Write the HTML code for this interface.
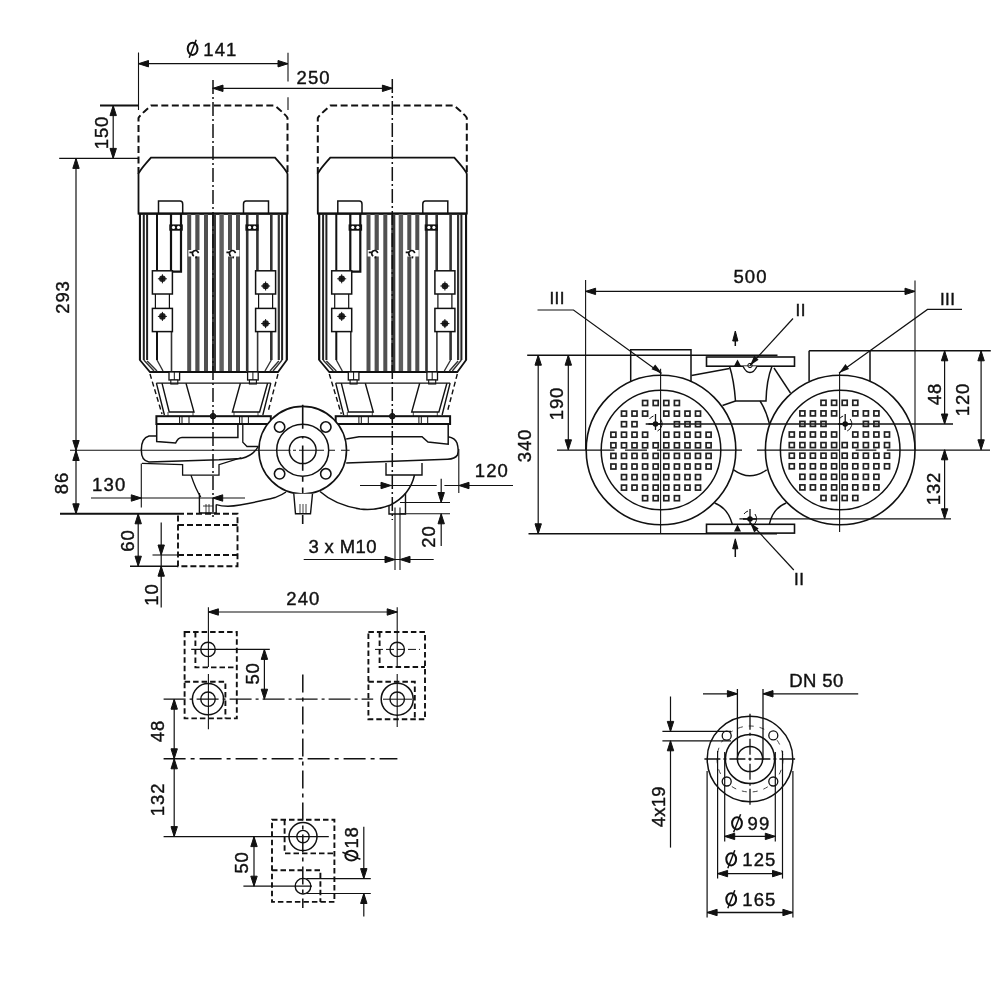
<!DOCTYPE html>
<html><head><meta charset="utf-8"><style>
html,body{margin:0;padding:0;background:#fff;}
svg{display:block;will-change:transform;}
text{font-family:"Liberation Sans",sans-serif;fill:#111;stroke:#111;stroke-width:0.4px;}
</style></head><body>
<svg width="1000" height="1000" viewBox="0 0 1000 1000" stroke="#111" fill="none" stroke-linecap="butt">
<rect x="0" y="0" width="1000" height="1000" fill="#fff" stroke="none"/>
<defs><g id="motor"><path d="M-74.5,174 L-74.5,118 Q-74,116 -62,105.6 L62,105.6 Q74,116 74.5,118 L74.5,174" fill="none" stroke-width="2" stroke-dasharray="7 3.5"/>
<path d="M-74.5,213.5 L-74.5,174 Q-74,171 -62,157.6 L62,157.6 Q74,171 74.5,174 L74.5,213.5 Z" fill="#fff" stroke-width="1.8"/>
<path d="M-54.5,213.5 L-54.5,201 L-33,201 Q-30.3,201 -30.3,204 L-30.3,213.5" fill="none" stroke-width="1.5"/>
<path d="M30.5,213.5 L30.5,204 Q30.5,201 33.2,201 L55.5,201 L55.5,213.5" fill="none" stroke-width="1.5"/>
<line x1="-74.5" y1="213.8" x2="74.5" y2="213.8" stroke-width="2"/>
<rect x="-74.10" y="214" width="2.00" height="146" fill="#111" stroke="none"/>
<rect x="-70.20" y="214" width="2.00" height="146" fill="#222" stroke="none"/>
<rect x="-66.90" y="214" width="2.00" height="146" fill="#222" stroke="none"/>
<rect x="-57.00" y="214" width="2.00" height="146" fill="#111" stroke="none"/>
<rect x="-25.80" y="214" width="4.00" height="158" fill="#505050" stroke="none"/>
<rect x="-17.70" y="214" width="4.20" height="158" fill="#505050" stroke="none"/>
<rect x="-9.00" y="214" width="4.00" height="158" fill="#505050" stroke="none"/>
<rect x="-1.00" y="214" width="4.00" height="158" fill="#3a3a3a" stroke="none"/>
<rect x="6.40" y="214" width="4.40" height="158" fill="#606060" stroke="none"/>
<rect x="15.00" y="214" width="4.00" height="158" fill="#505050" stroke="none"/>
<rect x="23.00" y="214" width="4.00" height="158" fill="#505050" stroke="none"/>
<rect x="57.00" y="214" width="2.60" height="146" fill="#333" stroke="none"/>
<rect x="64.70" y="214" width="2.20" height="146" fill="#333" stroke="none"/>
<rect x="68.10" y="214" width="2.00" height="146" fill="#222" stroke="none"/>
<rect x="72.80" y="214" width="2.00" height="146" fill="#111" stroke="none"/>
<path d="M-73.1,214 L-73.1,360 L-63,372 L65,372 L73.8,360 L73.8,214" fill="none" stroke-width="1.8"/>
<path d="M-69.2,360 L-59,371 M-65.9,361 L-56,371 M-56,360 L-50,371 M69.1,360 L60,371 M65.8,361 L57,371 M58.3,360 L52,371" fill="none" stroke-width="1.4" stroke="#333"/>
<path d="M-42,214 L-42,271.6 L-32,271.6 L-32,214" fill="none" stroke-width="2.2"/>
<rect x="-43.7" y="224.4" width="13.5" height="6.3" fill="#111" stroke="none"/>
<circle cx="-39.5" cy="227.4" r="1.6" fill="#fff" stroke="none"/><circle cx="-34.5" cy="227.4" r="1.6" fill="#fff" stroke="none"/>
<path d="M34.2,214 L34.2,372 M44.4,214 L44.4,271.6" fill="none" stroke-width="2.6" stroke="#333"/>
<rect x="32.4" y="224.4" width="13.2" height="6.3" fill="#111" stroke="none"/>
<circle cx="36.6" cy="227.4" r="1.6" fill="#fff" stroke="none"/><circle cx="41.6" cy="227.4" r="1.6" fill="#fff" stroke="none"/>
<path d="M-41.5,330 L-41.5,372 M44.6,330 L44.6,372" fill="none" stroke-width="1.6" stroke="#333"/>
<rect x="-57.6" y="293.0" width="14" height="16" fill="#fff" stroke-width="1.2"/>
<rect x="-60.6" y="270.8" width="20" height="23.2" fill="#fff" stroke-width="1.5"/>
<rect x="-60.6" y="308.4" width="20" height="23.2" fill="#fff" stroke-width="1.5"/>
<circle cx="-50.6" cy="278.8" r="3.3" fill="#222" stroke="none"/>
<path d="M-55.1,278.8 h9 M-50.6,274.3 v9" stroke-width="1"/>
<circle cx="-50.6" cy="316.4" r="3.3" fill="#222" stroke="none"/>
<path d="M-55.1,316.4 h9 M-50.6,311.9 v9" stroke-width="1"/>
<rect x="45.6" y="293.0" width="14" height="16" fill="#fff" stroke-width="1.2"/>
<rect x="42.6" y="270.8" width="20" height="23.2" fill="#fff" stroke-width="1.5"/>
<rect x="42.6" y="308.4" width="20" height="23.2" fill="#fff" stroke-width="1.5"/>
<circle cx="52.6" cy="286.0" r="3.3" fill="#222" stroke="none"/>
<path d="M48.1,286.0 h9 M52.6,281.5 v9" stroke-width="1"/>
<circle cx="52.6" cy="323.6" r="3.3" fill="#222" stroke="none"/>
<path d="M48.1,323.6 h9 M52.6,319.1 v9" stroke-width="1"/>
<g transform="translate(-17.6,253.6)"><rect x="-7" y="-3.6" width="14" height="6.5" fill="#fff" stroke="none"/><path d="M-6,-1.2 h3 M-1.5,2.5 A3,3 0 1 1 3,-0.5 M1,2.8 L0.5,4.8" fill="none" stroke-width="1.7" stroke="#111"/></g>
<g transform="translate(19.4,253.6)"><rect x="-7" y="-3.6" width="14" height="6.5" fill="#fff" stroke="none"/><path d="M-6,-1.2 h3 M-1.5,2.5 A3,3 0 1 1 3,-0.5 M1,2.8 L0.5,4.8" fill="none" stroke-width="1.7" stroke="#111"/></g>
<rect x="-44.0" y="372" width="10.6" height="8" fill="#fff" stroke-width="1.3"/>
<line x1="-38.7" y1="372" x2="-38.7" y2="380" stroke-width="1"/>
<rect x="-42.2" y="380" width="7" height="4" fill="#fff" stroke-width="1.1"/>
<rect x="34.6" y="372" width="10.6" height="8" fill="#fff" stroke-width="1.3"/>
<line x1="39.9" y1="372" x2="39.9" y2="380" stroke-width="1"/>
<rect x="36.4" y="380" width="7" height="4" fill="#fff" stroke-width="1.1"/>
<line x1="-56.6" y1="383.2" x2="57.8" y2="383.2" stroke-width="1.3"/>
<path d="M-63,374 L-51,414 M65,374 L55,412" fill="none" stroke-width="1.4" stroke-dasharray="5 3"/>
<path d="M-56.6,383.2 L-48.6,415 M-51,383.2 L-43.8,412 L-19,412 L-27,383.2 M27.4,383.2 L19.4,412 L46.6,412 L54.6,383.2 M57.8,383.2 L49.8,415" fill="none" stroke-width="1.4"/>
<path d="M-45,412 L-45,416 M-20,412 L-20,416 M21,412 L21,416 M45,412 L45,416" fill="none" stroke-width="0.8"/>
<rect x="-56.6" y="416.2" width="114.4" height="7.8" fill="#fff" stroke-width="2"/>
<path d="M-33.4,416 v8 M-31,416 v8 M-24,416 v8 M26.6,416 v8 M29,416 v8 M35.4,416 v8" fill="none" stroke-width="1"/>
<circle cx="0" cy="416.2" r="2.8" fill="#222" stroke-width="1"/></g></defs>
<use href="#motor" transform="translate(213,0)"/>
<use href="#motor" transform="translate(392.3,0)"/>
<path d="M156.7,424 L156.7,441.6 L175.6,443 Q178,437.4 182,437.4 L237.9,437.4 L237.9,424" fill="none" stroke-width="1.5"/>
<path d="M242.8,424 L242.8,442.3 L247,446.5 L258.2,446.5" fill="none" stroke-width="1.3"/>
<path d="M156.7,436 L149,436 Q141.3,438 141.3,450 Q141.3,461 149,461.9 L219,459.8 L241.4,458.4 Q253,456 258.2,446.5" fill="none" stroke-width="1.5"/>
<path d="M142,463.3 L182.6,464.7 L182.6,475.2 L219,475.2 L219,464.7 L241.4,457.7" fill="none" stroke-width="1.3"/>
<path d="M191,475.2 Q196,490 200.8,497" fill="none" stroke-width="1.3"/>
<path d="M199.4,493 L199.4,513 M216.2,504.6 L216.2,513 M199.4,513 L216.2,513" fill="none" stroke-width="1.4"/>
<path d="M206,504 v9 M209,504 v9 M203,506 h10" fill="none" stroke-width="0.8"/>
<path d="M216.2,504.6 Q226,507.5 240,505 Q262,501 275,497.6 Q282,495 286,492" fill="none" stroke-width="1.5"/>
<circle cx="302.7" cy="450.2" r="43.8" fill="#fff" stroke-width="1.6"/>
<circle cx="302.7" cy="450.2" r="26" fill="none" stroke-width="1.5"/>
<circle cx="302.7" cy="450.2" r="13.4" fill="none" stroke-width="1.5"/>
<circle cx="279.6" cy="427.0" r="5.2" fill="#fff" stroke-width="1.6"/>
<circle cx="279.6" cy="473.8" r="5.2" fill="#fff" stroke-width="1.6"/>
<circle cx="325.8" cy="427.0" r="5.2" fill="#fff" stroke-width="1.6"/>
<circle cx="325.8" cy="473.8" r="5.2" fill="#fff" stroke-width="1.6"/>
<path d="M302.7,404.8 v24 M302.7,436 v2.5 M302.7,445.6 v25.2 M302.7,476.8 v5 M302.7,487.6 v12 M302.7,506 v3 M302.7,515 v9" fill="none" stroke-width="1.6"/>
<path d="M283,450.2 h7.5 M293,450.2 h3 M299,450.2 h25 M329,450.2 h6 M341,450.2 h8.6" fill="none" stroke-width="1.1"/>
<path d="M293.8,493.8 L295.5,513.8 L310.5,513.8 L312.5,493.8" fill="#fff" stroke-width="1.4"/>
<path d="M300,504 v9 M303,504 v9 M306,504 v9" fill="none" stroke-width="0.8"/>
<path d="M346.2,439 L359,436.75 L422,436.75 L428,442 L448.2,444.25 L448.2,424" fill="none" stroke-width="1.5"/>
<path d="M448.2,436.75 Q455,438 457,443 Q459,450 457.5,455 Q455,459 447.5,459.25 L346.2,463" fill="none" stroke-width="1.5"/>
<path d="M386,463 L386,475 L422,475 L422,463" fill="none" stroke-width="1.4"/>
<path d="M414.5,475 Q410,495 390.5,505 Q375,511 360,509 Q335,505 320,491.5" fill="none" stroke-width="1.5"/>
<path d="M389,505 L389,514 L405.5,514 L405.5,493" fill="none" stroke-width="1.4"/>
<line x1="213.0" y1="80.0" x2="213.0" y2="520.0" stroke-width="1.50" stroke-dasharray="14 3 2 3"/>
<line x1="392.3" y1="79.0" x2="392.3" y2="520.0" stroke-width="1.50" stroke-dasharray="14 3 2 3"/>
<line x1="138.5" y1="52.5" x2="138.5" y2="110.0" stroke-width="1.10" />
<line x1="288.0" y1="52.8" x2="288.0" y2="81.6" stroke-width="1.10" />
<line x1="288.0" y1="97.2" x2="288.0" y2="110.0" stroke-width="1.10" />
<line x1="138.5" y1="63.7" x2="288.0" y2="63.7" stroke-width="1.20" />
<polygon points="138.5,63.7 148.5,60.5 148.5,66.9" fill="#111"/>
<polygon points="288.0,63.7 278.0,60.5 278.0,66.9" fill="#111"/>
<ellipse cx="192.6" cy="48.8" rx="4.9" ry="6.1" fill="none" stroke-width="2"/>
<line x1="189.2" y1="57.8" x2="196.2" y2="39.8" stroke-width="1.5"/>
<text x="220.4" y="49.1" font-size="18.5" letter-spacing="1.10" text-anchor="middle" dominant-baseline="central">141</text>
<line x1="212.4" y1="88.3" x2="392.4" y2="88.3" stroke-width="1.20" />
<polygon points="213.0,88.3 223.0,85.1 223.0,91.5" fill="#111"/>
<polygon points="392.4,88.3 382.4,85.1 382.4,91.5" fill="#111"/>
<text x="313.6" y="77.7" font-size="18.5" letter-spacing="1.10" text-anchor="middle" dominant-baseline="central">250</text>
<line x1="100.0" y1="105.6" x2="138.5" y2="105.6" stroke-width="2.00" />
<line x1="113.2" y1="105.6" x2="113.2" y2="158.4" stroke-width="1.20" />
<polygon points="113.2,105.6 110.0,115.6 116.4,115.6" fill="#111"/>
<polygon points="113.2,158.4 110.0,148.4 116.4,148.4" fill="#111"/>
<text x="100.5" y="132.0" font-size="18.5" letter-spacing="0.90" text-anchor="middle" dominant-baseline="central" transform="rotate(-90 101.0 132.0)">150</text>
<line x1="59.2" y1="158.4" x2="139.0" y2="158.4" stroke-width="1.10" />
<line x1="76.0" y1="158.4" x2="76.0" y2="450.5" stroke-width="1.20" />
<polygon points="76.0,158.4 72.8,168.4 79.2,168.4" fill="#111"/>
<polygon points="76.0,450.5 72.8,440.5 79.2,440.5" fill="#111"/>
<text x="62.2" y="296.4" font-size="18.5" letter-spacing="0.90" text-anchor="middle" dominant-baseline="central" transform="rotate(-90 62.8 296.4)">293</text>
<line x1="70.0" y1="450.3" x2="283.0" y2="450.3" stroke-width="1.10" />
<line x1="76.0" y1="450.5" x2="76.0" y2="513.8" stroke-width="1.20" />
<polygon points="76.0,450.5 72.8,460.5 79.2,460.5" fill="#111"/>
<polygon points="76.0,513.8 72.8,503.8 79.2,503.8" fill="#111"/>
<text x="60.5" y="482.5" font-size="18.5" letter-spacing="0.90" text-anchor="middle" dominant-baseline="central" transform="rotate(-90 61.0 482.5)">86</text>
<line x1="141.3" y1="463.5" x2="141.3" y2="507.4" stroke-width="1.10" />
<line x1="91.0" y1="498.0" x2="245.0" y2="498.0" stroke-width="1.20" />
<polygon points="141.3,498.0 131.3,494.8 131.3,501.2" fill="#111"/>
<polygon points="212.7,498.0 222.7,494.8 222.7,501.2" fill="#111"/>
<text x="109.2" y="484.8" font-size="18.5" letter-spacing="1.10" text-anchor="middle" dominant-baseline="central">130</text>
<line x1="60.0" y1="513.8" x2="178.0" y2="513.8" stroke-width="2.00" />
<path d="M178,513.8 L237.5,513.8 L237.5,566.2 L178,566.2 Z M178,525 L237.5,525 M178,555 L237.5,555" fill="none" stroke-width="1.9" stroke-dasharray="6 3"/>
<line x1="130.0" y1="566.2" x2="178.0" y2="566.2" stroke-width="1.50" />
<line x1="138.2" y1="513.8" x2="138.2" y2="566.2" stroke-width="1.20" />
<polygon points="138.2,513.8 135.0,523.8 141.4,523.8" fill="#111"/>
<polygon points="138.2,566.2 135.0,556.2 141.4,556.2" fill="#111"/>
<text x="127.0" y="540.0" font-size="18.5" letter-spacing="0.90" text-anchor="middle" dominant-baseline="central" transform="rotate(-90 127.5 540.0)">60</text>
<line x1="152.5" y1="555.0" x2="178.0" y2="555.0" stroke-width="1.10" />
<line x1="161.2" y1="522.5" x2="161.2" y2="607.5" stroke-width="1.20" />
<polygon points="161.2,555.0 158.0,545.0 164.4,545.0" fill="#111"/>
<polygon points="161.2,566.2 158.0,576.2 164.4,576.2" fill="#111"/>
<text x="150.4" y="594.0" font-size="18.5" letter-spacing="0.90" text-anchor="middle" dominant-baseline="central" transform="rotate(-90 151.0 594.0)">10</text>
<line x1="458.8" y1="449.0" x2="458.8" y2="493.0" stroke-width="1.10" />
<line x1="360.0" y1="485.5" x2="436.7" y2="485.5" stroke-width="1.20" />
<line x1="444.4" y1="485.5" x2="513.0" y2="485.5" stroke-width="1.20" />
<polygon points="391.0,485.5 381.0,482.3 381.0,488.7" fill="#111"/>
<polygon points="459.0,485.5 469.0,482.3 469.0,488.7" fill="#111"/>
<text x="491.9" y="470.8" font-size="18.5" letter-spacing="1.10" text-anchor="middle" dominant-baseline="central">120</text>
<line x1="400.0" y1="502.5" x2="450.0" y2="502.5" stroke-width="1.10" />
<line x1="400.0" y1="513.8" x2="450.0" y2="513.8" stroke-width="1.10" />
<line x1="441.2" y1="478.7" x2="441.2" y2="502.5" stroke-width="1.20" />
<polygon points="441.2,502.5 438.0,492.5 444.4,492.5" fill="#111"/>
<line x1="441.2" y1="513.8" x2="441.2" y2="546.0" stroke-width="1.20" />
<polygon points="441.2,513.8 438.0,523.8 444.4,523.8" fill="#111"/>
<text x="428.1" y="536.0" font-size="18.5" letter-spacing="0.90" text-anchor="middle" dominant-baseline="central" transform="rotate(-90 428.7 536.0)">20</text>
<line x1="395.0" y1="507.5" x2="395.0" y2="570.0" stroke-width="1.10" />
<line x1="400.0" y1="507.5" x2="400.0" y2="570.0" stroke-width="1.10" />
<line x1="303.7" y1="559.5" x2="433.7" y2="559.5" stroke-width="1.20" />
<polygon points="395.0,559.5 385.0,556.3 385.0,562.7" fill="#111"/>
<polygon points="400.0,559.5 410.0,556.3 410.0,562.7" fill="#111"/>
<text x="342.7" y="546.3" font-size="18.5" letter-spacing="0.40" text-anchor="middle" dominant-baseline="central">3 x M10</text>
<line x1="585.6" y1="280.0" x2="585.6" y2="450.0" stroke-width="1.10" />
<line x1="915.0" y1="280.5" x2="915.0" y2="450.0" stroke-width="1.10" />
<line x1="585.6" y1="291.4" x2="915.0" y2="291.4" stroke-width="1.20" />
<polygon points="585.6,291.4 595.6,288.2 595.6,294.6" fill="#111"/>
<polygon points="915.0,291.4 905.0,288.2 905.0,294.6" fill="#111"/>
<text x="750.5" y="276.3" font-size="18.5" letter-spacing="1.10" text-anchor="middle" dominant-baseline="central">500</text>
<line x1="527.2" y1="355.2" x2="777.5" y2="355.2" stroke-width="1.60" />
<line x1="809.1" y1="350.8" x2="990.8" y2="350.8" stroke-width="1.60" />
<line x1="528.5" y1="533.8" x2="777.0" y2="533.8" stroke-width="1.60" />
<line x1="739.4" y1="518.8" x2="951.0" y2="518.8" stroke-width="1.20" />
<line x1="645.7" y1="424.0" x2="953.0" y2="424.0" stroke-width="1.40" />
<path d="M557,450.2 H614.5 M625,450.2 H647 M657,450.2 H742 M757,450.2 H840 M855.6,450.2 H876.4 M886.8,450.2 H990" fill="none" stroke-width="1.2"/>
<path d="M630.7,382 L630.7,349.8 L691,349.8 L691,382" fill="none" stroke-width="1.5"/>
<path d="M809.1,381.2 L809.1,350.8 M870,350.8 L870,381.2" fill="none" stroke-width="1.5"/>
<circle cx="661.0" cy="450" r="74.8" fill="none" stroke-width="1.6"/>
<circle cx="661.0" cy="450" r="59.8" fill="none" stroke-width="1.5"/>
<circle cx="840.2" cy="450" r="74.8" fill="none" stroke-width="1.6"/>
<circle cx="840.2" cy="450" r="59.8" fill="none" stroke-width="1.5"/>
<rect x="642.6" y="400.5" width="5" height="5" fill="none" stroke-width="1.7" stroke="#222"/>
<rect x="653.2" y="400.5" width="5" height="5" fill="none" stroke-width="1.7" stroke="#222"/>
<rect x="663.8" y="400.5" width="5" height="5" fill="none" stroke-width="1.7" stroke="#222"/>
<rect x="674.4" y="400.5" width="5" height="5" fill="none" stroke-width="1.7" stroke="#222"/>
<rect x="621.5" y="411.1" width="5" height="5" fill="none" stroke-width="1.7" stroke="#222"/>
<rect x="632.0" y="411.1" width="5" height="5" fill="none" stroke-width="1.7" stroke="#222"/>
<rect x="642.6" y="411.1" width="5" height="5" fill="none" stroke-width="1.7" stroke="#222"/>
<rect x="663.8" y="411.1" width="5" height="5" fill="none" stroke-width="1.7" stroke="#222"/>
<rect x="674.4" y="411.1" width="5" height="5" fill="none" stroke-width="1.7" stroke="#222"/>
<rect x="685.0" y="411.1" width="5" height="5" fill="none" stroke-width="1.7" stroke="#222"/>
<rect x="695.5" y="411.1" width="5" height="5" fill="none" stroke-width="1.7" stroke="#222"/>
<rect x="621.5" y="421.7" width="5" height="5" fill="none" stroke-width="1.7" stroke="#222"/>
<rect x="632.0" y="421.7" width="5" height="5" fill="none" stroke-width="1.7" stroke="#222"/>
<rect x="674.4" y="421.7" width="5" height="5" fill="none" stroke-width="1.7" stroke="#222"/>
<rect x="685.0" y="421.7" width="5" height="5" fill="none" stroke-width="1.7" stroke="#222"/>
<rect x="695.5" y="421.7" width="5" height="5" fill="none" stroke-width="1.7" stroke="#222"/>
<rect x="610.9" y="432.2" width="5" height="5" fill="none" stroke-width="1.7" stroke="#222"/>
<rect x="621.5" y="432.2" width="5" height="5" fill="none" stroke-width="1.7" stroke="#222"/>
<rect x="632.0" y="432.2" width="5" height="5" fill="none" stroke-width="1.7" stroke="#222"/>
<rect x="642.6" y="432.2" width="5" height="5" fill="none" stroke-width="1.7" stroke="#222"/>
<rect x="663.8" y="432.2" width="5" height="5" fill="none" stroke-width="1.7" stroke="#222"/>
<rect x="674.4" y="432.2" width="5" height="5" fill="none" stroke-width="1.7" stroke="#222"/>
<rect x="685.0" y="432.2" width="5" height="5" fill="none" stroke-width="1.7" stroke="#222"/>
<rect x="695.5" y="432.2" width="5" height="5" fill="none" stroke-width="1.7" stroke="#222"/>
<rect x="706.1" y="432.2" width="5" height="5" fill="none" stroke-width="1.7" stroke="#222"/>
<rect x="610.9" y="442.8" width="5" height="5" fill="none" stroke-width="1.7" stroke="#222"/>
<rect x="621.5" y="442.8" width="5" height="5" fill="none" stroke-width="1.7" stroke="#222"/>
<rect x="632.0" y="442.8" width="5" height="5" fill="none" stroke-width="1.7" stroke="#222"/>
<rect x="642.6" y="442.8" width="5" height="5" fill="none" stroke-width="1.7" stroke="#222"/>
<rect x="653.2" y="442.8" width="5" height="5" fill="none" stroke-width="1.7" stroke="#222"/>
<rect x="663.8" y="442.8" width="5" height="5" fill="none" stroke-width="1.7" stroke="#222"/>
<rect x="674.4" y="442.8" width="5" height="5" fill="none" stroke-width="1.7" stroke="#222"/>
<rect x="685.0" y="442.8" width="5" height="5" fill="none" stroke-width="1.7" stroke="#222"/>
<rect x="695.5" y="442.8" width="5" height="5" fill="none" stroke-width="1.7" stroke="#222"/>
<rect x="706.1" y="442.8" width="5" height="5" fill="none" stroke-width="1.7" stroke="#222"/>
<rect x="610.9" y="453.4" width="5" height="5" fill="none" stroke-width="1.7" stroke="#222"/>
<rect x="621.5" y="453.4" width="5" height="5" fill="none" stroke-width="1.7" stroke="#222"/>
<rect x="632.0" y="453.4" width="5" height="5" fill="none" stroke-width="1.7" stroke="#222"/>
<rect x="642.6" y="453.4" width="5" height="5" fill="none" stroke-width="1.7" stroke="#222"/>
<rect x="653.2" y="453.4" width="5" height="5" fill="none" stroke-width="1.7" stroke="#222"/>
<rect x="663.8" y="453.4" width="5" height="5" fill="none" stroke-width="1.7" stroke="#222"/>
<rect x="674.4" y="453.4" width="5" height="5" fill="none" stroke-width="1.7" stroke="#222"/>
<rect x="685.0" y="453.4" width="5" height="5" fill="none" stroke-width="1.7" stroke="#222"/>
<rect x="695.5" y="453.4" width="5" height="5" fill="none" stroke-width="1.7" stroke="#222"/>
<rect x="706.1" y="453.4" width="5" height="5" fill="none" stroke-width="1.7" stroke="#222"/>
<rect x="610.9" y="464.0" width="5" height="5" fill="none" stroke-width="1.7" stroke="#222"/>
<rect x="621.5" y="464.0" width="5" height="5" fill="none" stroke-width="1.7" stroke="#222"/>
<rect x="632.0" y="464.0" width="5" height="5" fill="none" stroke-width="1.7" stroke="#222"/>
<rect x="642.6" y="464.0" width="5" height="5" fill="none" stroke-width="1.7" stroke="#222"/>
<rect x="653.2" y="464.0" width="5" height="5" fill="none" stroke-width="1.7" stroke="#222"/>
<rect x="663.8" y="464.0" width="5" height="5" fill="none" stroke-width="1.7" stroke="#222"/>
<rect x="674.4" y="464.0" width="5" height="5" fill="none" stroke-width="1.7" stroke="#222"/>
<rect x="685.0" y="464.0" width="5" height="5" fill="none" stroke-width="1.7" stroke="#222"/>
<rect x="695.5" y="464.0" width="5" height="5" fill="none" stroke-width="1.7" stroke="#222"/>
<rect x="706.1" y="464.0" width="5" height="5" fill="none" stroke-width="1.7" stroke="#222"/>
<rect x="621.5" y="474.6" width="5" height="5" fill="none" stroke-width="1.7" stroke="#222"/>
<rect x="632.0" y="474.6" width="5" height="5" fill="none" stroke-width="1.7" stroke="#222"/>
<rect x="642.6" y="474.6" width="5" height="5" fill="none" stroke-width="1.7" stroke="#222"/>
<rect x="653.2" y="474.6" width="5" height="5" fill="none" stroke-width="1.7" stroke="#222"/>
<rect x="663.8" y="474.6" width="5" height="5" fill="none" stroke-width="1.7" stroke="#222"/>
<rect x="674.4" y="474.6" width="5" height="5" fill="none" stroke-width="1.7" stroke="#222"/>
<rect x="685.0" y="474.6" width="5" height="5" fill="none" stroke-width="1.7" stroke="#222"/>
<rect x="695.5" y="474.6" width="5" height="5" fill="none" stroke-width="1.7" stroke="#222"/>
<rect x="621.5" y="485.1" width="5" height="5" fill="none" stroke-width="1.7" stroke="#222"/>
<rect x="632.0" y="485.1" width="5" height="5" fill="none" stroke-width="1.7" stroke="#222"/>
<rect x="642.6" y="485.1" width="5" height="5" fill="none" stroke-width="1.7" stroke="#222"/>
<rect x="653.2" y="485.1" width="5" height="5" fill="none" stroke-width="1.7" stroke="#222"/>
<rect x="663.8" y="485.1" width="5" height="5" fill="none" stroke-width="1.7" stroke="#222"/>
<rect x="674.4" y="485.1" width="5" height="5" fill="none" stroke-width="1.7" stroke="#222"/>
<rect x="685.0" y="485.1" width="5" height="5" fill="none" stroke-width="1.7" stroke="#222"/>
<rect x="695.5" y="485.1" width="5" height="5" fill="none" stroke-width="1.7" stroke="#222"/>
<rect x="642.6" y="495.7" width="5" height="5" fill="none" stroke-width="1.7" stroke="#222"/>
<rect x="653.2" y="495.7" width="5" height="5" fill="none" stroke-width="1.7" stroke="#222"/>
<rect x="663.8" y="495.7" width="5" height="5" fill="none" stroke-width="1.7" stroke="#222"/>
<rect x="674.4" y="495.7" width="5" height="5" fill="none" stroke-width="1.7" stroke="#222"/>
<rect x="821.0" y="400.3" width="5" height="5" fill="none" stroke-width="1.7" stroke="#222"/>
<rect x="831.6" y="400.3" width="5" height="5" fill="none" stroke-width="1.7" stroke="#222"/>
<rect x="842.2" y="400.3" width="5" height="5" fill="none" stroke-width="1.7" stroke="#222"/>
<rect x="852.8" y="400.3" width="5" height="5" fill="none" stroke-width="1.7" stroke="#222"/>
<rect x="799.9" y="410.9" width="5" height="5" fill="none" stroke-width="1.7" stroke="#222"/>
<rect x="810.4" y="410.9" width="5" height="5" fill="none" stroke-width="1.7" stroke="#222"/>
<rect x="821.0" y="410.9" width="5" height="5" fill="none" stroke-width="1.7" stroke="#222"/>
<rect x="831.6" y="410.9" width="5" height="5" fill="none" stroke-width="1.7" stroke="#222"/>
<rect x="852.8" y="410.9" width="5" height="5" fill="none" stroke-width="1.7" stroke="#222"/>
<rect x="863.4" y="410.9" width="5" height="5" fill="none" stroke-width="1.7" stroke="#222"/>
<rect x="873.9" y="410.9" width="5" height="5" fill="none" stroke-width="1.7" stroke="#222"/>
<rect x="799.9" y="421.4" width="5" height="5" fill="none" stroke-width="1.7" stroke="#222"/>
<rect x="810.4" y="421.4" width="5" height="5" fill="none" stroke-width="1.7" stroke="#222"/>
<rect x="821.0" y="421.4" width="5" height="5" fill="none" stroke-width="1.7" stroke="#222"/>
<rect x="863.4" y="421.4" width="5" height="5" fill="none" stroke-width="1.7" stroke="#222"/>
<rect x="873.9" y="421.4" width="5" height="5" fill="none" stroke-width="1.7" stroke="#222"/>
<rect x="789.3" y="432.0" width="5" height="5" fill="none" stroke-width="1.7" stroke="#222"/>
<rect x="799.9" y="432.0" width="5" height="5" fill="none" stroke-width="1.7" stroke="#222"/>
<rect x="810.4" y="432.0" width="5" height="5" fill="none" stroke-width="1.7" stroke="#222"/>
<rect x="821.0" y="432.0" width="5" height="5" fill="none" stroke-width="1.7" stroke="#222"/>
<rect x="831.6" y="432.0" width="5" height="5" fill="none" stroke-width="1.7" stroke="#222"/>
<rect x="852.8" y="432.0" width="5" height="5" fill="none" stroke-width="1.7" stroke="#222"/>
<rect x="863.4" y="432.0" width="5" height="5" fill="none" stroke-width="1.7" stroke="#222"/>
<rect x="873.9" y="432.0" width="5" height="5" fill="none" stroke-width="1.7" stroke="#222"/>
<rect x="884.5" y="432.0" width="5" height="5" fill="none" stroke-width="1.7" stroke="#222"/>
<rect x="789.3" y="442.6" width="5" height="5" fill="none" stroke-width="1.7" stroke="#222"/>
<rect x="799.9" y="442.6" width="5" height="5" fill="none" stroke-width="1.7" stroke="#222"/>
<rect x="810.4" y="442.6" width="5" height="5" fill="none" stroke-width="1.7" stroke="#222"/>
<rect x="821.0" y="442.6" width="5" height="5" fill="none" stroke-width="1.7" stroke="#222"/>
<rect x="831.6" y="442.6" width="5" height="5" fill="none" stroke-width="1.7" stroke="#222"/>
<rect x="842.2" y="442.6" width="5" height="5" fill="none" stroke-width="1.7" stroke="#222"/>
<rect x="852.8" y="442.6" width="5" height="5" fill="none" stroke-width="1.7" stroke="#222"/>
<rect x="863.4" y="442.6" width="5" height="5" fill="none" stroke-width="1.7" stroke="#222"/>
<rect x="873.9" y="442.6" width="5" height="5" fill="none" stroke-width="1.7" stroke="#222"/>
<rect x="884.5" y="442.6" width="5" height="5" fill="none" stroke-width="1.7" stroke="#222"/>
<rect x="789.3" y="453.2" width="5" height="5" fill="none" stroke-width="1.7" stroke="#222"/>
<rect x="799.9" y="453.2" width="5" height="5" fill="none" stroke-width="1.7" stroke="#222"/>
<rect x="810.4" y="453.2" width="5" height="5" fill="none" stroke-width="1.7" stroke="#222"/>
<rect x="821.0" y="453.2" width="5" height="5" fill="none" stroke-width="1.7" stroke="#222"/>
<rect x="831.6" y="453.2" width="5" height="5" fill="none" stroke-width="1.7" stroke="#222"/>
<rect x="842.2" y="453.2" width="5" height="5" fill="none" stroke-width="1.7" stroke="#222"/>
<rect x="852.8" y="453.2" width="5" height="5" fill="none" stroke-width="1.7" stroke="#222"/>
<rect x="863.4" y="453.2" width="5" height="5" fill="none" stroke-width="1.7" stroke="#222"/>
<rect x="873.9" y="453.2" width="5" height="5" fill="none" stroke-width="1.7" stroke="#222"/>
<rect x="884.5" y="453.2" width="5" height="5" fill="none" stroke-width="1.7" stroke="#222"/>
<rect x="789.3" y="463.8" width="5" height="5" fill="none" stroke-width="1.7" stroke="#222"/>
<rect x="799.9" y="463.8" width="5" height="5" fill="none" stroke-width="1.7" stroke="#222"/>
<rect x="810.4" y="463.8" width="5" height="5" fill="none" stroke-width="1.7" stroke="#222"/>
<rect x="821.0" y="463.8" width="5" height="5" fill="none" stroke-width="1.7" stroke="#222"/>
<rect x="831.6" y="463.8" width="5" height="5" fill="none" stroke-width="1.7" stroke="#222"/>
<rect x="842.2" y="463.8" width="5" height="5" fill="none" stroke-width="1.7" stroke="#222"/>
<rect x="852.8" y="463.8" width="5" height="5" fill="none" stroke-width="1.7" stroke="#222"/>
<rect x="863.4" y="463.8" width="5" height="5" fill="none" stroke-width="1.7" stroke="#222"/>
<rect x="873.9" y="463.8" width="5" height="5" fill="none" stroke-width="1.7" stroke="#222"/>
<rect x="884.5" y="463.8" width="5" height="5" fill="none" stroke-width="1.7" stroke="#222"/>
<rect x="799.9" y="474.3" width="5" height="5" fill="none" stroke-width="1.7" stroke="#222"/>
<rect x="810.4" y="474.3" width="5" height="5" fill="none" stroke-width="1.7" stroke="#222"/>
<rect x="821.0" y="474.3" width="5" height="5" fill="none" stroke-width="1.7" stroke="#222"/>
<rect x="831.6" y="474.3" width="5" height="5" fill="none" stroke-width="1.7" stroke="#222"/>
<rect x="842.2" y="474.3" width="5" height="5" fill="none" stroke-width="1.7" stroke="#222"/>
<rect x="852.8" y="474.3" width="5" height="5" fill="none" stroke-width="1.7" stroke="#222"/>
<rect x="863.4" y="474.3" width="5" height="5" fill="none" stroke-width="1.7" stroke="#222"/>
<rect x="873.9" y="474.3" width="5" height="5" fill="none" stroke-width="1.7" stroke="#222"/>
<rect x="799.9" y="484.9" width="5" height="5" fill="none" stroke-width="1.7" stroke="#222"/>
<rect x="810.4" y="484.9" width="5" height="5" fill="none" stroke-width="1.7" stroke="#222"/>
<rect x="821.0" y="484.9" width="5" height="5" fill="none" stroke-width="1.7" stroke="#222"/>
<rect x="831.6" y="484.9" width="5" height="5" fill="none" stroke-width="1.7" stroke="#222"/>
<rect x="842.2" y="484.9" width="5" height="5" fill="none" stroke-width="1.7" stroke="#222"/>
<rect x="852.8" y="484.9" width="5" height="5" fill="none" stroke-width="1.7" stroke="#222"/>
<rect x="863.4" y="484.9" width="5" height="5" fill="none" stroke-width="1.7" stroke="#222"/>
<rect x="873.9" y="484.9" width="5" height="5" fill="none" stroke-width="1.7" stroke="#222"/>
<rect x="821.0" y="495.5" width="5" height="5" fill="none" stroke-width="1.7" stroke="#222"/>
<rect x="831.6" y="495.5" width="5" height="5" fill="none" stroke-width="1.7" stroke="#222"/>
<rect x="842.2" y="495.5" width="5" height="5" fill="none" stroke-width="1.7" stroke="#222"/>
<rect x="852.8" y="495.5" width="5" height="5" fill="none" stroke-width="1.7" stroke="#222"/>
<line x1="660.6" y1="368.7" x2="660.6" y2="533.0" stroke-width="1.10" />
<line x1="839.6" y1="372.0" x2="839.6" y2="532.0" stroke-width="1.10" />
<circle cx="655.5" cy="424.0" r="2.8" fill="#111" stroke="none"/>
<path d="M655.5,414.0 v16 M648.5,424.0 h14" fill="none" stroke-width="1.3"/>
<path d="M649.5,419.0 A8,8 0 0 1 653.5,416.0 M660.5,419.0 A8,8 0 0 1 657.5,431.0" fill="none" stroke-width="1"/>
<circle cx="845.2" cy="424.0" r="2.8" fill="#111" stroke="none"/>
<path d="M845.2,414.0 v16 M838.2,424.0 h14" fill="none" stroke-width="1.3"/>
<path d="M839.2,419.0 A8,8 0 0 1 843.2,416.0 M850.2,419.0 A8,8 0 0 1 847.2,431.0" fill="none" stroke-width="1"/>
<rect x="706.5" y="357" width="88" height="9.2" fill="#fff" stroke-width="1.6"/>
<path d="M729.5,366.2 Q734,380 735.5,401 L766,401 Q766.5,380 772,366.2" fill="none" stroke-width="1.5"/>
<path d="M743,366.2 Q746,372.5 750,372.5 Q754,372.5 757,366.2" fill="#fff" stroke-width="1.4"/>
<polygon points="737.5,359.5 734,366 741,366" fill="#111" stroke="none"/>
<circle cx="750" cy="365.5" r="2.2" fill="none" stroke-width="1"/>
<line x1="691.5" y1="375.5" x2="729.5" y2="368.5" stroke-width="1.40" />
<line x1="774.0" y1="368.0" x2="790.5" y2="393.0" stroke-width="1.40" />
<line x1="735.5" y1="401.0" x2="722.5" y2="405.5" stroke-width="1.40" />
<path d="M760,401 Q766,410 769.5,424" fill="none" stroke-width="1.4"/>
<line x1="735.3" y1="346.0" x2="735.3" y2="340.0" stroke-width="1.50" />
<polygon points="735.3,331.0 732.7,341.0 737.9,341.0" fill="#111"/>
<rect x="706.5" y="524.3" width="88" height="8.8" fill="#fff" stroke-width="1.6"/>
<path d="M733.6,469.9 Q742,475.8 749.8,475.8 Q758,475.8 766.7,469.9" fill="none" stroke-width="1.4"/>
<path d="M714.7,503 Q728,508 732.3,524.3 M786.2,503 Q773,508 769.3,524.3" fill="none" stroke-width="1.4"/>
<polygon points="737.5,524.5 734,531.5 741,531.5" fill="#111" stroke="none"/>
<circle cx="750.0" cy="519.0" r="2.8" fill="#111" stroke="none"/>
<path d="M750.0,509.0 v16 M743.0,519.0 h14" fill="none" stroke-width="1.3"/>
<path d="M744.0,514.0 A8,8 0 0 1 748.0,511.0 M755.0,514.0 A8,8 0 0 1 752.0,526.0" fill="none" stroke-width="1"/>
<line x1="735.3" y1="557.0" x2="735.3" y2="548.0" stroke-width="1.50" />
<polygon points="735.3,538.8 732.7,548.8 737.9,548.8" fill="#111"/>
<path d="M537.5,310 L573.5,310 L660.5,373" fill="none" stroke-width="1.2"/>
<polygon points="661.5,373.5 661.4,373.4 661.4,373.6" fill="#111"/>
<polygon points="662.2,373.6 651.5,369.2 655.2,364.4" fill="#111" stroke="none"/>
<path d="M962,309.4 L927.5,309.4 L839,373.1" fill="none" stroke-width="1.2"/>
<polygon points="839,373.1 845.5,364 849,369" fill="#111" stroke="none"/>
<path d="M793,318.5 L750,365.5" fill="none" stroke-width="1.2"/>
<polygon points="750,365.5 754.2,355.8 758.6,359.8" fill="#111" stroke="none"/>
<path d="M793.8,570 L750,522.5" fill="none" stroke-width="1.2"/>
<polygon points="750,522.5 758.6,528.4 754.2,532.4" fill="#111" stroke="none"/>
<text x="557.2" y="298.3" font-size="17.0" letter-spacing="0.40" text-anchor="middle" dominant-baseline="central">III</text>
<text x="947.7" y="299.8" font-size="17.0" letter-spacing="0.40" text-anchor="middle" dominant-baseline="central">III</text>
<text x="800.7" y="310.3" font-size="17.0" letter-spacing="0.40" text-anchor="middle" dominant-baseline="central">II</text>
<text x="799.2" y="579.3" font-size="17.0" letter-spacing="0.40" text-anchor="middle" dominant-baseline="central">II</text>
<line x1="538.2" y1="355.2" x2="538.2" y2="533.8" stroke-width="1.20" />
<polygon points="538.2,355.2 535.0,365.2 541.4,365.2" fill="#111"/>
<polygon points="538.2,533.8 535.0,523.8 541.4,523.8" fill="#111"/>
<text x="523.5" y="445.0" font-size="18.5" letter-spacing="0.90" text-anchor="middle" dominant-baseline="central" transform="rotate(-90 524.0 445.0)">340</text>
<line x1="568.3" y1="355.2" x2="568.3" y2="449.8" stroke-width="1.20" />
<polygon points="568.3,355.2 565.1,365.2 571.5,365.2" fill="#111"/>
<polygon points="568.3,449.8 565.1,439.8 571.5,439.8" fill="#111"/>
<text x="556.0" y="403.0" font-size="18.5" letter-spacing="0.90" text-anchor="middle" dominant-baseline="central" transform="rotate(-90 556.5 403.0)">190</text>
<line x1="944.6" y1="350.8" x2="944.6" y2="424.0" stroke-width="1.20" />
<polygon points="944.6,350.8 941.4,360.8 947.8,360.8" fill="#111"/>
<polygon points="944.6,424.0 941.4,414.0 947.8,414.0" fill="#111"/>
<text x="934.0" y="393.5" font-size="18.5" letter-spacing="0.90" text-anchor="middle" dominant-baseline="central" transform="rotate(-90 934.5 393.5)">48</text>
<line x1="981.1" y1="350.8" x2="981.1" y2="449.8" stroke-width="1.20" />
<polygon points="981.1,350.8 977.9,360.8 984.3,360.8" fill="#111"/>
<polygon points="981.1,449.8 977.9,439.8 984.3,439.8" fill="#111"/>
<text x="962.0" y="399.0" font-size="18.5" letter-spacing="0.90" text-anchor="middle" dominant-baseline="central" transform="rotate(-90 962.5 399.0)">120</text>
<line x1="944.6" y1="449.8" x2="944.6" y2="518.8" stroke-width="1.20" />
<polygon points="944.6,449.8 941.4,459.8 947.8,459.8" fill="#111"/>
<polygon points="944.6,518.8 941.4,508.8 947.8,508.8" fill="#111"/>
<text x="933.0" y="488.0" font-size="18.5" letter-spacing="0.90" text-anchor="middle" dominant-baseline="central" transform="rotate(-90 933.5 488.0)">132</text>
<line x1="208.4" y1="607.2" x2="208.4" y2="667.0" stroke-width="1.10" />
<line x1="208.4" y1="674.0" x2="208.4" y2="729.2" stroke-width="1.10" />
<line x1="397.2" y1="607.2" x2="397.2" y2="667.0" stroke-width="1.10" />
<line x1="397.2" y1="674.0" x2="397.2" y2="727.0" stroke-width="1.10" />
<line x1="208.4" y1="612.0" x2="397.2" y2="612.0" stroke-width="1.20" />
<polygon points="208.4,612.0 218.4,608.8 218.4,615.2" fill="#111"/>
<polygon points="397.2,612.0 387.2,608.8 387.2,615.2" fill="#111"/>
<text x="303.4" y="598.9" font-size="18.5" letter-spacing="1.10" text-anchor="middle" dominant-baseline="central">240</text>
<path d="M184.6,632 L236.8,632 L236.8,718.4 L184.6,718.4 Z" fill="none" stroke-width="1.9" stroke-dasharray="5.5 3"/>
<path d="M195.4,632 L195.4,667.4 L236.8,667.4" fill="none" stroke-width="1.9" stroke-dasharray="5.5 3"/>
<path d="M184.6,681.8 L225.4,681.8 L225.4,718.4" fill="none" stroke-width="1.9" stroke-dasharray="5.5 3"/>
<circle cx="208" cy="649.4" r="7.2" fill="none" stroke-width="1.4"/>
<circle cx="208" cy="699.2" r="15.6" fill="none" stroke-width="1.5"/>
<circle cx="208" cy="699.2" r="7.2" fill="none" stroke-width="1.4"/>
<line x1="191.2" y1="649.4" x2="269.8" y2="649.4" stroke-width="1.20" />
<path d="M368.4,632 L425,632 L425,719.2 L368.4,719.2 Z" fill="none" stroke-width="1.9" stroke-dasharray="5.5 3"/>
<path d="M379.6,632 L379.6,667 L425,667" fill="none" stroke-width="1.9" stroke-dasharray="5.5 3"/>
<path d="M368.4,681.8 L414.8,681.8 L414.8,719.2" fill="none" stroke-width="1.9" stroke-dasharray="5.5 3"/>
<circle cx="397.2" cy="649.4" r="7.2" fill="none" stroke-width="1.4"/>
<circle cx="397.2" cy="699.2" r="16" fill="none" stroke-width="1.5"/>
<circle cx="397.2" cy="699.2" r="7.2" fill="none" stroke-width="1.4"/>
<line x1="375.0" y1="649.4" x2="420.0" y2="649.4" stroke-width="1.00" stroke-dasharray="8 3"/>
<line x1="383.0" y1="699.2" x2="412.0" y2="699.2" stroke-width="1.00" />
<line x1="264.4" y1="649.4" x2="264.4" y2="699.2" stroke-width="1.20" />
<polygon points="264.4,649.4 261.2,659.4 267.6,659.4" fill="#111"/>
<polygon points="264.4,699.2 261.2,689.2 267.6,689.2" fill="#111"/>
<text x="252.4" y="672.8" font-size="18.5" letter-spacing="0.90" text-anchor="middle" dominant-baseline="central" transform="rotate(-90 253.0 672.8)">50</text>
<line x1="163.6" y1="699.2" x2="373.2" y2="699.2" stroke-width="1.20" stroke-dasharray="22 4 3 4"/>
<line x1="163.6" y1="758.8" x2="397.4" y2="758.8" stroke-width="1.50" stroke-dasharray="22 5 4 5"/>
<line x1="302.8" y1="674.4" x2="302.8" y2="908.0" stroke-width="1.50" stroke-dasharray="18 5 4 5"/>
<line x1="174.2" y1="699.2" x2="174.2" y2="758.8" stroke-width="1.20" />
<polygon points="174.2,699.2 171.0,709.2 177.4,709.2" fill="#111"/>
<polygon points="174.2,758.8 171.0,748.8 177.4,748.8" fill="#111"/>
<text x="156.6" y="730.4" font-size="18.5" letter-spacing="0.90" text-anchor="middle" dominant-baseline="central" transform="rotate(-90 157.2 730.4)">48</text>
<line x1="174.2" y1="758.8" x2="174.2" y2="836.6" stroke-width="1.20" />
<polygon points="174.2,758.8 171.0,768.8 177.4,768.8" fill="#111"/>
<polygon points="174.2,836.6 171.0,826.6 177.4,826.6" fill="#111"/>
<text x="157.4" y="798.8" font-size="18.5" letter-spacing="0.90" text-anchor="middle" dominant-baseline="central" transform="rotate(-90 158.0 798.8)">132</text>
<line x1="163.6" y1="836.6" x2="328.8" y2="836.6" stroke-width="1.20" />
<path d="M272,819.8 L334.4,819.8 L334.4,901.9 L272,901.9 Z" fill="none" stroke-width="1.9" stroke-dasharray="5.5 3"/>
<path d="M284.6,819.8 L284.6,853.4 L334.4,853.4" fill="none" stroke-width="1.9" stroke-dasharray="5.5 3"/>
<path d="M272,870.2 L320.4,870.2 L320.4,901.9" fill="none" stroke-width="1.9" stroke-dasharray="5.5 3"/>
<circle cx="303" cy="836.6" r="14" fill="none" stroke-width="1.5"/>
<circle cx="303" cy="836.6" r="6.2" fill="none" stroke-width="1.4"/>
<circle cx="303" cy="886.2" r="7.8" fill="none" stroke-width="1.4"/>
<line x1="254.0" y1="836.6" x2="254.0" y2="886.2" stroke-width="1.20" />
<polygon points="254.0,836.6 250.8,846.6 257.2,846.6" fill="#111"/>
<polygon points="254.0,886.2 250.8,876.2 257.2,876.2" fill="#111"/>
<text x="241.4" y="861.8" font-size="18.5" letter-spacing="0.90" text-anchor="middle" dominant-baseline="central" transform="rotate(-90 242.0 861.8)">50</text>
<line x1="243.4" y1="886.2" x2="312.0" y2="886.2" stroke-width="1.20" />
<line x1="306.4" y1="878.6" x2="370.8" y2="878.6" stroke-width="1.10" />
<line x1="306.4" y1="893.5" x2="370.8" y2="893.5" stroke-width="1.10" />
<line x1="363.8" y1="826.8" x2="363.8" y2="878.6" stroke-width="1.20" />
<polygon points="363.8,878.6 360.6,868.6 367.0,868.6" fill="#111"/>
<line x1="363.8" y1="893.5" x2="363.8" y2="916.4" stroke-width="1.20" />
<polygon points="363.8,893.5 360.6,903.5 367.0,903.5" fill="#111"/>
<ellipse cx="351.4" cy="855.6" rx="6.1" ry="4.9" fill="none" stroke-width="2"/>
<line x1="342.4" y1="852.2" x2="360.4" y2="859.2" stroke-width="1.5"/>
<text x="351.2" y="836.8" font-size="18.5" letter-spacing="0.90" text-anchor="middle" dominant-baseline="central" transform="rotate(-90 351.8 836.8)">18</text>
<circle cx="750.0" cy="759.0" r="42.8" fill="none" stroke-width="1.5"/>
<circle cx="750.0" cy="759.0" r="24.6" fill="none" stroke-width="1.5"/>
<circle cx="750.0" cy="759.0" r="12.6" fill="none" stroke-width="1.5"/>
<circle cx="750.0" cy="759.0" r="33" fill="none" stroke-width="1" stroke-dasharray="5 6" stroke="#444"/>
<circle cx="726.7" cy="735.7" r="4.5" fill="#fff" stroke-width="1.3"/>
<circle cx="773.3" cy="735.4" r="4.5" fill="#fff" stroke-width="1.3"/>
<circle cx="726.7" cy="781.5" r="4.5" fill="#fff" stroke-width="1.3"/>
<circle cx="773.3" cy="781.5" r="4.5" fill="#fff" stroke-width="1.3"/>
<line x1="704.4" y1="759.0" x2="795.1" y2="759.0" stroke-width="1.30" stroke-dasharray="16 3 3 3"/>
<line x1="750.0" y1="713.8" x2="750.0" y2="805.1" stroke-width="1.30" stroke-dasharray="16 3 3 3"/>
<line x1="737.4" y1="689.0" x2="737.4" y2="760.0" stroke-width="1.30" />
<line x1="763.0" y1="689.0" x2="763.0" y2="760.0" stroke-width="1.30" />
<line x1="703.0" y1="693.8" x2="737.4" y2="693.8" stroke-width="1.20" />
<polygon points="737.4,693.8 727.4,690.6 727.4,697.0" fill="#111"/>
<line x1="763.0" y1="693.8" x2="858.2" y2="693.8" stroke-width="1.20" />
<polygon points="763.0,693.8 773.0,690.6 773.0,697.0" fill="#111"/>
<text x="816.5" y="680.6" font-size="18.5" letter-spacing="0.40" text-anchor="middle" dominant-baseline="central">DN 50</text>
<line x1="662.4" y1="731.4" x2="731.0" y2="731.4" stroke-width="1.20" />
<line x1="662.4" y1="740.8" x2="731.0" y2="740.8" stroke-width="1.20" />
<line x1="670.5" y1="696.5" x2="670.5" y2="731.4" stroke-width="1.20" />
<polygon points="670.5,731.4 667.3,721.4 673.7,721.4" fill="#111"/>
<line x1="670.5" y1="740.8" x2="670.5" y2="847.6" stroke-width="1.20" />
<polygon points="670.5,740.8 667.3,750.8 673.7,750.8" fill="#111"/>
<text x="657.5" y="805.8" font-size="18.5" letter-spacing="0.30" text-anchor="middle" dominant-baseline="central" transform="rotate(-90 658.4 805.8)">4x19</text>
<line x1="724.7" y1="752.0" x2="724.7" y2="841.4" stroke-width="1.20" />
<line x1="775.3" y1="752.0" x2="775.3" y2="841.4" stroke-width="1.20" />
<line x1="724.7" y1="836.4" x2="775.3" y2="836.4" stroke-width="1.30" />
<polygon points="724.7,836.4 734.7,833.2 734.7,839.6" fill="#111"/>
<polygon points="775.3,836.4 765.3,833.2 765.3,839.6" fill="#111"/>
<ellipse cx="737.0" cy="823.3" rx="4.9" ry="6.1" fill="none" stroke-width="2"/>
<line x1="733.6" y1="832.3" x2="740.6" y2="814.3" stroke-width="1.5"/>
<text x="759.0" y="823.6" font-size="18.5" letter-spacing="1.10" text-anchor="middle" dominant-baseline="central">99</text>
<line x1="717.6" y1="751.0" x2="717.6" y2="878.6" stroke-width="1.20" />
<line x1="782.5" y1="751.0" x2="782.5" y2="878.6" stroke-width="1.20" />
<line x1="717.6" y1="873.6" x2="782.5" y2="873.6" stroke-width="1.30" />
<polygon points="717.6,873.6 727.6,870.4 727.6,876.8" fill="#111"/>
<polygon points="782.5,873.6 772.5,870.4 772.5,876.8" fill="#111"/>
<ellipse cx="731.2" cy="859.3" rx="4.9" ry="6.1" fill="none" stroke-width="2"/>
<line x1="727.8" y1="868.3" x2="734.8" y2="850.3" stroke-width="1.5"/>
<text x="759.4" y="859.6" font-size="18.5" letter-spacing="1.10" text-anchor="middle" dominant-baseline="central">125</text>
<line x1="707.1" y1="771.0" x2="707.1" y2="917.5" stroke-width="1.20" />
<line x1="792.9" y1="771.0" x2="792.9" y2="917.5" stroke-width="1.20" />
<line x1="707.1" y1="912.5" x2="792.9" y2="912.5" stroke-width="1.30" />
<polygon points="707.1,912.5 717.1,909.3 717.1,915.7" fill="#111"/>
<polygon points="792.9,912.5 782.9,909.3 782.9,915.7" fill="#111"/>
<ellipse cx="731.2" cy="899.3" rx="4.9" ry="6.1" fill="none" stroke-width="2"/>
<line x1="727.8" y1="908.3" x2="734.8" y2="890.3" stroke-width="1.5"/>
<text x="759.4" y="899.6" font-size="18.5" letter-spacing="1.10" text-anchor="middle" dominant-baseline="central">165</text>
</svg></body></html>
